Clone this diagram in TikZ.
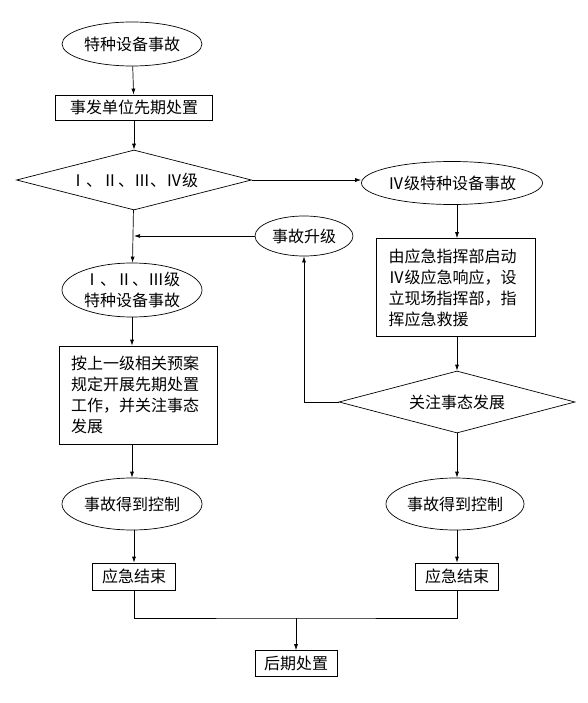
\documentclass[tikz,border=0pt]{standalone}
\usepackage{fontspec}
\setmainfont{Noto Sans CJK SC}
\usetikzlibrary{shapes.geometric, arrows.meta}

\begin{document}
\begin{tikzpicture}[x=1pt, y=-1pt, font=\fontsize{16}{21}\selectfont, line width=0.7pt,
    arr/.style={-{Latex[length=6pt, width=4pt]}},
    oval/.style={draw, ellipse, minimum width=140pt, minimum height=44pt, inner sep=0pt, align=center},
    stepbox/.style={draw, rectangle, inner sep=3pt},
    textbox/.style={draw, rectangle, minimum height=98pt, text width=134pt, align=left, inner xsep=12pt},
    choice/.style={draw, diamond, shape aspect=4, minimum width=235pt, minimum height=60pt, inner sep=0pt}]

    \useasboundingbox (0, 0) rectangle (588, 703);

    % left column
    \node[oval] (start) at (132, 44) {特种设备事故};
    \node[stepbox, minimum width=157pt, minimum height=25pt] (first) at (134, 107.5) {事发单位先期处置};
    \node[choice] (level) at (134, 180) {Ⅰ、Ⅱ、Ⅲ、Ⅳ级};
    \node[oval, minimum height=54pt] (major) at (132, 290) {Ⅰ、Ⅱ、Ⅲ级\\特种设备事故};
    \node[textbox] (plan) at (138, 395) {按上一级相关预案\\规定开展先期处置\\工作，并关注事态\\发展};
    \node[oval, minimum width=140pt, minimum height=52pt] (lctrl) at (132, 504) {事故得到控制};
    \node[stepbox, minimum width=83pt, minimum height=27pt] (lend) at (134, 576.5) {应急结束};

    % right column
    \node[oval, minimum height=43pt] (minor) at (452, 183) {Ⅳ级特种设备事故};
    \node[textbox, minimum width=159pt] (cmd) at (455.5, 287.5) {由应急指挥部启动\\Ⅳ级应急响应，设\\立现场指挥部，指\\挥应急救援};
    \node[choice, minimum width=236pt, minimum height=62pt] (watch) at (457, 402) {关注事态发展};
    \node[oval, minimum width=138pt, minimum height=52pt] (rctrl) at (455, 504) {事故得到控制};
    \node[stepbox, minimum width=83pt, minimum height=27pt] (rend) at (457, 576.5) {应急结束};

    \node[oval, minimum width=98pt, minimum height=40pt] (upgrade) at (304, 236) {事故升级};
    \node[stepbox, minimum width=82pt, minimum height=26pt] (post) at (296, 663.5) {后期处置};
    \coordinate (join) at (296, 618);

    % connectors
    \draw[arr] (start) -- (first);
    \draw[arr] (first) -- (level);
    \draw[arr] (level.east) -- (level.east -| minor.west);
    \draw[arr] (level) -- (major);
    \draw[arr] (upgrade.west) -- (upgrade.west -| level.south);
    \draw[arr] (major) -- (plan.north -| major.south);
    \draw[arr] (plan.south -| lctrl.south) -- (lctrl);
    \draw[arr] (lctrl.south -| lend.north) -- (lend);

    \draw[arr] (minor.south -| watch.north) -- (cmd.north -| watch.north);
    \draw[arr] (cmd.south -| watch.north) -- (watch);
    \draw[arr] (watch.west) -| (upgrade.south);
    \draw[arr] (watch) -- (rctrl.north -| watch.south);
    \draw[arr] (rctrl.south -| rend.north) -- (rend);

    \draw (lend) |- (join) -| (rend);
    \draw[arr] (join) -- (post);

\end{tikzpicture}
\end{document}
